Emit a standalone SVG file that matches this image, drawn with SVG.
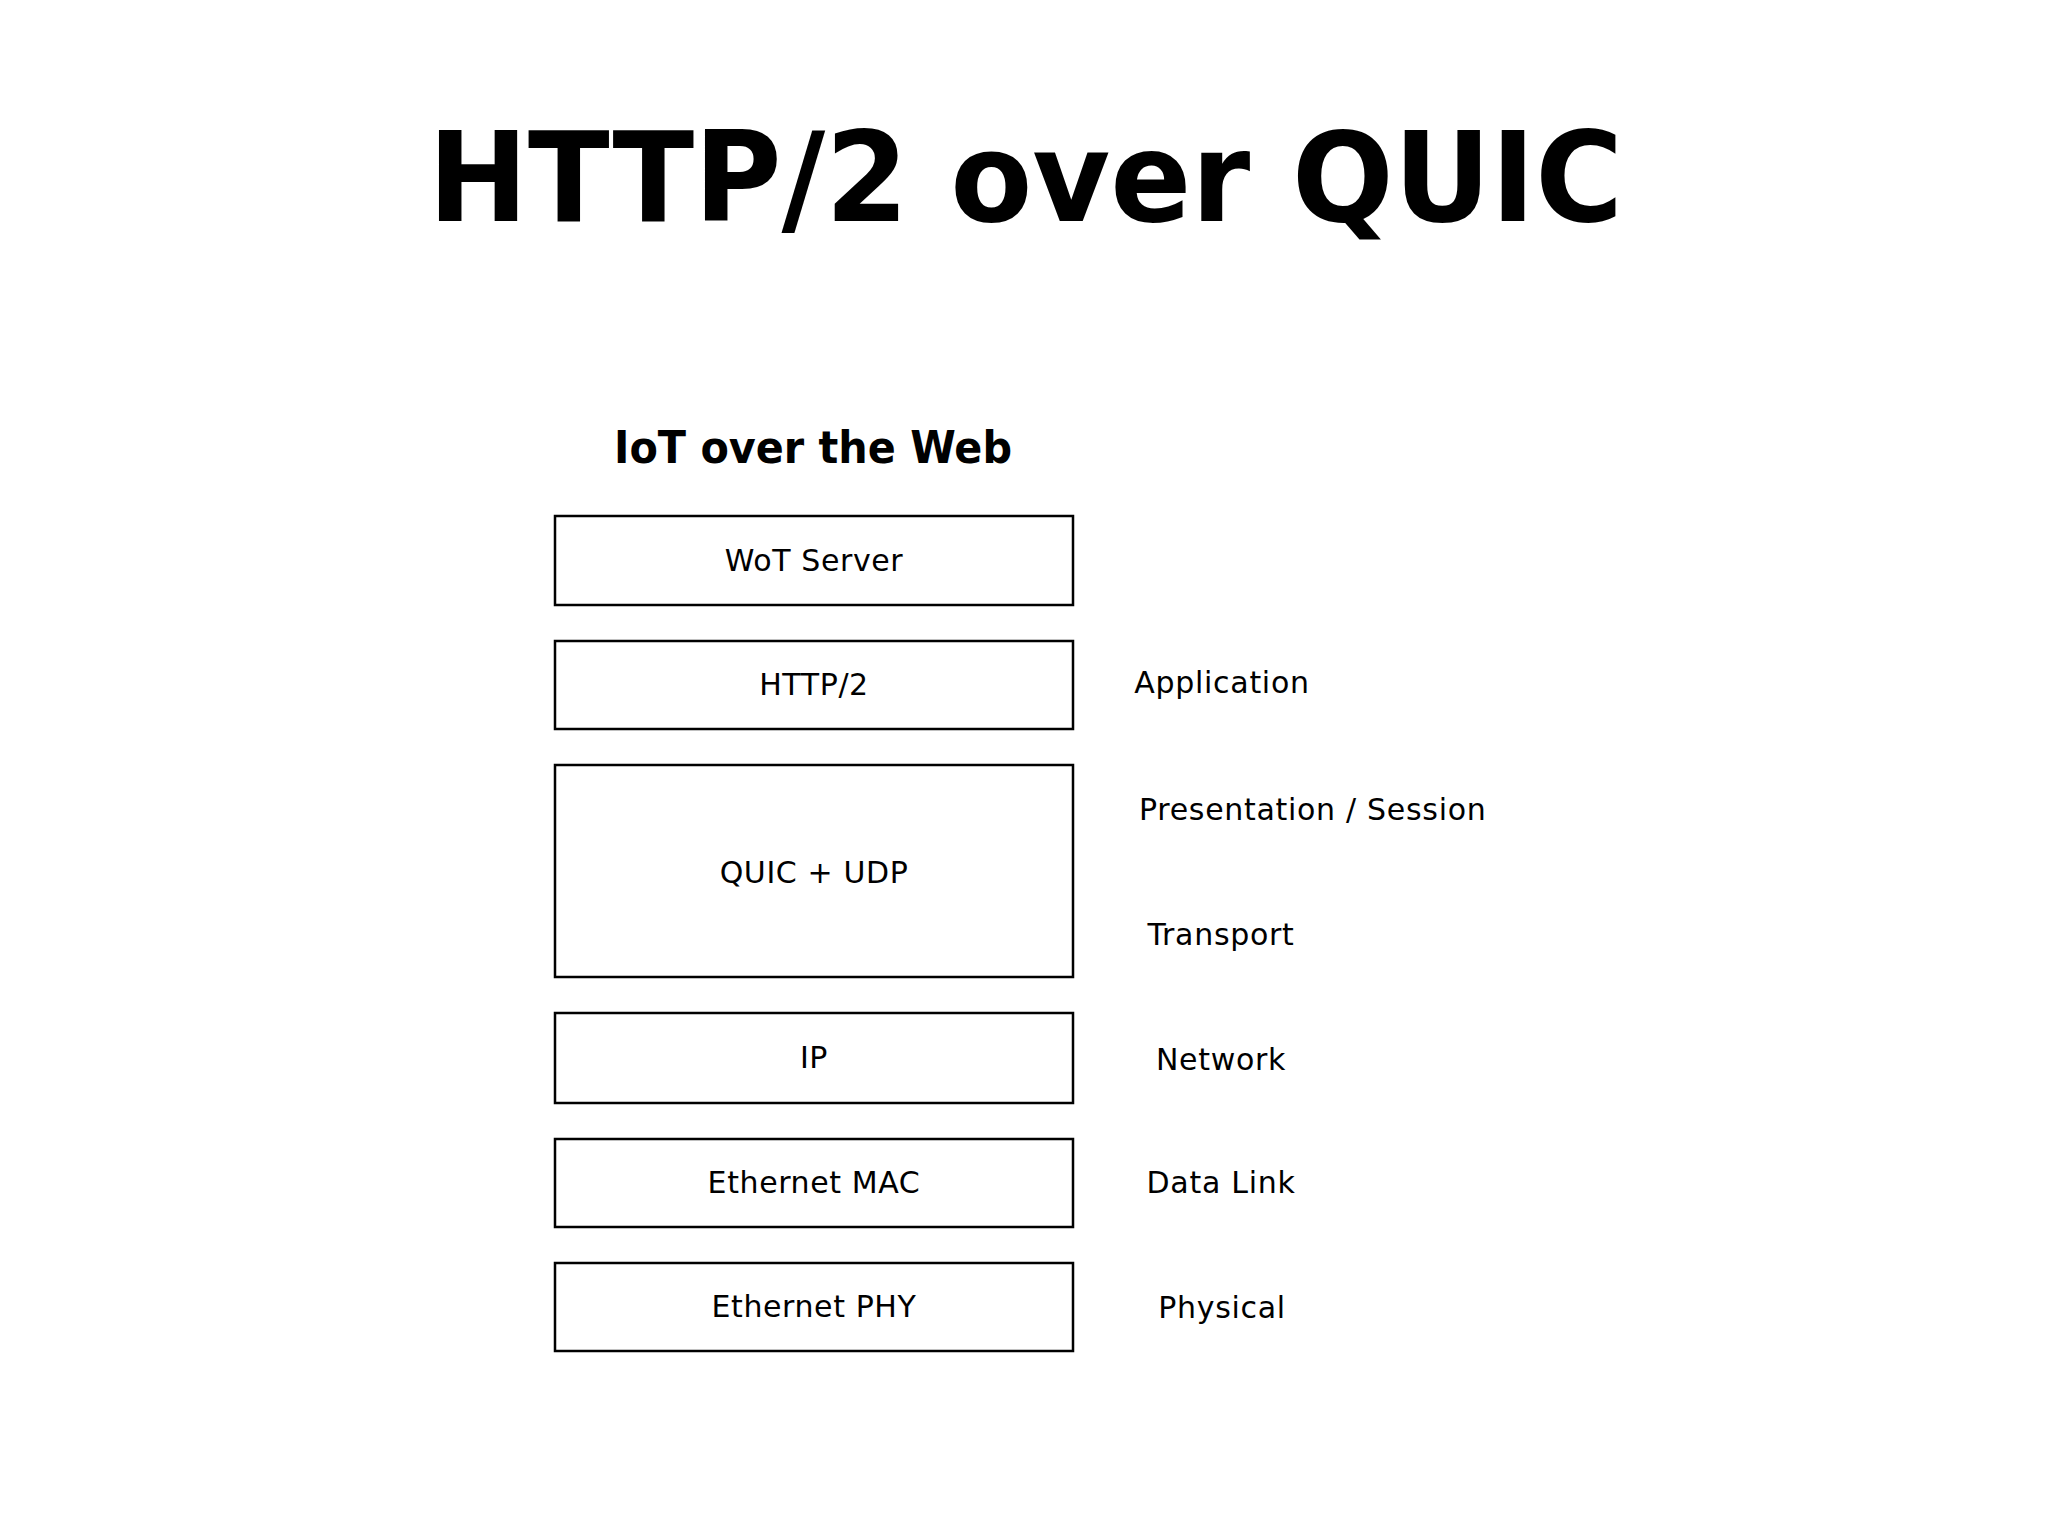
<svg xmlns="http://www.w3.org/2000/svg" width="2048" height="1536" viewBox="0 0 2048 1536">
<style>
text{font-family:"DejaVu Sans","Liberation Sans",sans-serif;fill:#000}
.title{font-size:125px;font-weight:bold}
.sub{font-size:45px;font-weight:bold}
.lbl{font-size:30px;text-anchor:middle;letter-spacing:0.6px}
.osi{font-size:30px;letter-spacing:0.7px}
rect.box{fill:#fff;stroke:#000;stroke-width:2.5}
</style>
<rect width="2048" height="1536" fill="#fff"/>
<text class="title" x="428" y="221" textLength="1195" lengthAdjust="spacingAndGlyphs">HTTP/2 over QUIC</text>
<text class="sub" x="614" y="463" textLength="398" lengthAdjust="spacingAndGlyphs">IoT over the Web</text>
<g id="wot"><rect class="box" x="555" y="516" width="518" height="89"/><text class="lbl" x="814" y="571">WoT Server</text></g>
<g id="http2"><rect class="box" x="555" y="641" width="518" height="88"/><text class="lbl" x="814" y="695">HTTP/2</text></g>
<g id="quic"><rect class="box" x="555" y="765" width="518" height="212"/><text class="lbl" x="814" y="883">QUIC + UDP</text></g>
<g id="ip"><rect class="box" x="555" y="1013" width="518" height="90"/><text class="lbl" x="814" y="1068">IP</text></g>
<g id="mac"><rect class="box" x="555" y="1139" width="518" height="88"/><text class="lbl" x="814" y="1193">Ethernet MAC</text></g>
<g id="phy"><rect class="box" x="555" y="1263" width="518" height="88"/><text class="lbl" x="814" y="1317">Ethernet PHY</text></g>
<g id="osi">
<text class="osi" x="1222" y="693" text-anchor="middle">Application</text>
<text class="osi" x="1139" y="820">Presentation / Session</text>
<text class="osi" x="1221" y="945" text-anchor="middle">Transport</text>
<text class="osi" x="1221" y="1070" text-anchor="middle">Network</text>
<text class="osi" x="1221" y="1193" text-anchor="middle">Data Link</text>
<text class="osi" x="1222" y="1318" text-anchor="middle">Physical</text>
</g>
<g id="connectors"/>
</svg>
